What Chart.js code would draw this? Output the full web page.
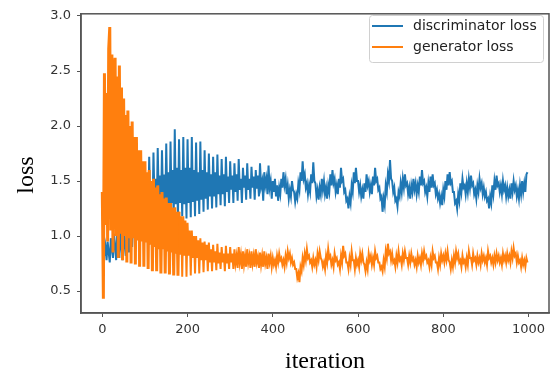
<!DOCTYPE html>
<html>
<head>
<meta charset="utf-8">
<script src="https://cdn.jsdelivr.net/npm/chart.js@4.4.1/dist/chart.umd.min.js"></script>
<style>
  html, body { margin: 0; padding: 0; background: #fff; }
  #wrap { width: 558px; height: 375px; }
</style>
</head>
<body>
<div id="wrap"><canvas id="lossChart" width="558" height="375"></canvas></div>
<script>
// one value every STEP iterations, 20 values (50 iterations) per row
const STEP = 2.5;

const discLoss = [
    1.30, 0.95, 0.82, 0.90, 0.78, 0.95, 0.85, 0.76, 0.98, 0.88, 0.80, 1.02, 0.90, 0.78, 1.04, 0.92, 0.80, 1.05, 0.90, 0.78,
    1.05, 0.92, 0.82, 1.06, 0.95, 0.85, 1.10, 1.00, 0.90, 1.18, 1.05, 0.95, 1.25, 1.10, 1.00, 1.32, 1.15, 1.05, 1.42, 1.20,
    1.58, 1.28, 1.45, 1.12, 1.72, 1.30, 1.50, 1.15, 1.76, 1.32, 1.52, 1.16, 1.80, 1.30, 1.55, 1.18, 1.78, 1.30, 1.56, 1.17,
    1.84, 1.30, 1.58, 1.18, 1.86, 1.30, 1.60, 1.17, 1.97, 1.29, 1.62, 1.16, 1.88, 1.30, 1.60, 1.18, 1.90, 1.29, 1.62, 1.16,
    1.88, 1.30, 1.62, 1.17, 1.90, 1.31, 1.60, 1.18, 1.85, 1.32, 1.58, 1.20, 1.86, 1.33, 1.60, 1.22, 1.78, 1.34, 1.58, 1.24,
    1.75, 1.36, 1.56, 1.25, 1.72, 1.36, 1.58, 1.26, 1.74, 1.38, 1.55, 1.28, 1.70, 1.38, 1.56, 1.27, 1.72, 1.40, 1.54, 1.30,
    1.68, 1.42, 1.55, 1.30, 1.66, 1.40, 1.56, 1.32, 1.70, 1.42, 1.52, 1.30, 1.62, 1.44, 1.55, 1.33, 1.66, 1.42, 1.52, 1.34,
    1.63, 1.44, 1.54, 1.33, 1.60, 1.43, 1.55, 1.36, 1.66, 1.45, 1.50, 1.32, 1.58, 1.46, 1.52, 1.38, 1.64, 1.44, 1.50, 1.34,
    1.50, 1.40, 1.52, 1.36, 1.46, 1.32, 1.44, 1.38, 1.52, 1.44, 1.58, 1.46, 1.52, 1.38, 1.46, 1.34, 1.42, 1.36, 1.50, 1.42,
    1.40, 1.31, 1.38, 1.34, 1.48, 1.42, 1.58, 1.50, 1.68, 1.52, 1.56, 1.44, 1.48, 1.38, 1.46, 1.40, 1.56, 1.48, 1.67, 1.50,
    1.48, 1.36, 1.42, 1.33, 1.44, 1.38, 1.52, 1.42, 1.50, 1.38, 1.44, 1.34, 1.46, 1.40, 1.56, 1.46, 1.60, 1.48, 1.52, 1.40,
    1.46, 1.38, 1.52, 1.44, 1.62, 1.50, 1.52, 1.40, 1.42, 1.32, 1.34, 1.25, 1.36, 1.30, 1.46, 1.40, 1.58, 1.48, 1.62, 1.50,
    1.50, 1.40, 1.46, 1.36, 1.42, 1.34, 1.48, 1.40, 1.56, 1.46, 1.50, 1.40, 1.46, 1.38, 1.54, 1.46, 1.62, 1.50, 1.52, 1.42,
    1.44, 1.34, 1.36, 1.22, 1.34, 1.28, 1.46, 1.40, 1.56, 1.50, 1.69, 1.52, 1.50, 1.40, 1.44, 1.32, 1.34, 1.27, 1.40, 1.36,
    1.48, 1.40, 1.52, 1.44, 1.56, 1.46, 1.48, 1.38, 1.44, 1.34, 1.46, 1.40, 1.52, 1.42, 1.48, 1.38, 1.46, 1.40, 1.54, 1.46,
    1.60, 1.48, 1.50, 1.40, 1.44, 1.36, 1.48, 1.40, 1.54, 1.44, 1.56, 1.46, 1.48, 1.38, 1.42, 1.34, 1.38, 1.30, 1.36, 1.28,
    1.42, 1.36, 1.50, 1.42, 1.56, 1.46, 1.58, 1.48, 1.50, 1.40, 1.40, 1.30, 1.32, 1.25, 1.38, 1.32, 1.48, 1.40, 1.52, 1.44,
    1.46, 1.38, 1.48, 1.40, 1.52, 1.44, 1.55, 1.46, 1.48, 1.38, 1.42, 1.34, 1.46, 1.40, 1.52, 1.44, 1.48, 1.38, 1.44, 1.36,
    1.40, 1.32, 1.34, 1.25, 1.36, 1.30, 1.46, 1.38, 1.50, 1.42, 1.55, 1.46, 1.48, 1.40, 1.46, 1.38, 1.50, 1.42, 1.46, 1.36,
    1.44, 1.36, 1.42, 1.34, 1.48, 1.40, 1.50, 1.42, 1.46, 1.36, 1.42, 1.34, 1.46, 1.38, 1.50, 1.40, 1.48, 1.40, 1.56, 1.58
];

const genLoss = [
    1.40, 0.43, 2.48, 1.10, 2.30, 0.95, 2.70, 2.90, 1.05, 2.65, 0.85, 2.50, 2.62, 1.00, 2.45, 0.80, 2.55, 1.02, 2.35, 0.78,
    2.25, 1.00, 2.10, 0.76, 2.14, 0.98, 2.00, 0.75, 2.04, 0.98, 1.90, 0.74, 1.90, 0.96, 1.78, 0.72, 1.78, 0.95, 1.68, 0.72,
    1.68, 0.94, 1.58, 0.70, 1.60, 0.92, 1.50, 0.68, 1.52, 0.90, 1.44, 0.68, 1.46, 0.88, 1.38, 0.66, 1.40, 0.88, 1.34, 0.66,
    1.35, 0.86, 1.30, 0.65, 1.30, 0.85, 1.26, 0.64, 1.26, 0.84, 1.22, 0.64, 1.22, 0.83, 1.18, 0.63, 1.18, 0.82, 1.14, 0.63,
    1.12, 0.82, 1.05, 0.64, 1.05, 0.80, 1.00, 0.66, 1.00, 0.80, 0.96, 0.66, 0.98, 0.78, 0.94, 0.67, 0.95, 0.78, 0.92, 0.68,
    0.94, 0.76, 0.88, 0.68, 0.92, 0.76, 0.86, 0.69, 0.93, 0.75, 0.85, 0.70, 0.90, 0.76, 0.84, 0.68, 0.91, 0.75, 0.84, 0.70,
    0.90, 0.76, 0.84, 0.70, 0.88, 0.75, 0.82, 0.71, 0.90, 0.76, 0.83, 0.70, 0.86, 0.74, 0.82, 0.72, 0.88, 0.76, 0.82, 0.71,
    0.86, 0.75, 0.82, 0.72, 0.88, 0.76, 0.81, 0.71, 0.85, 0.74, 0.82, 0.72, 0.86, 0.75, 0.80, 0.70, 0.84, 0.76, 0.82, 0.72,
    0.80, 0.74, 0.78, 0.72, 0.82, 0.76, 0.84, 0.78, 0.80, 0.74, 0.78, 0.72, 0.82, 0.76, 0.86, 0.80, 0.84, 0.76, 0.80, 0.74,
    0.76, 0.70, 0.70, 0.62, 0.66, 0.58, 0.72, 0.68, 0.80, 0.74, 0.84, 0.78, 0.88, 0.80, 0.82, 0.76, 0.78, 0.72, 0.80, 0.74,
    0.78, 0.72, 0.84, 0.78, 0.86, 0.80, 0.78, 0.72, 0.76, 0.70, 0.82, 0.76, 0.88, 0.80, 0.82, 0.74, 0.78, 0.72, 0.84, 0.78,
    0.80, 0.74, 0.76, 0.70, 0.82, 0.76, 0.91, 0.82, 0.84, 0.76, 0.76, 0.70, 0.80, 0.74, 0.86, 0.78, 0.78, 0.70, 0.80, 0.74,
    0.78, 0.72, 0.84, 0.78, 0.84, 0.76, 0.74, 0.68, 0.76, 0.70, 0.84, 0.78, 0.82, 0.74, 0.80, 0.74, 0.86, 0.80, 0.82, 0.76,
    0.76, 0.70, 0.72, 0.68, 0.78, 0.72, 0.86, 0.80, 0.93, 0.84, 0.86, 0.78, 0.84, 0.76, 0.78, 0.72, 0.82, 0.76, 0.86, 0.78,
    0.80, 0.74, 0.84, 0.78, 0.86, 0.80, 0.80, 0.74, 0.82, 0.76, 0.84, 0.78, 0.80, 0.74, 0.78, 0.72, 0.82, 0.76, 0.80, 0.74,
    0.84, 0.78, 0.86, 0.80, 0.82, 0.76, 0.78, 0.72, 0.80, 0.74, 0.86, 0.80, 0.82, 0.76, 0.76, 0.70, 0.80, 0.74, 0.84, 0.78,
    0.82, 0.76, 0.84, 0.78, 0.86, 0.78, 0.76, 0.70, 0.78, 0.72, 0.82, 0.76, 0.86, 0.80, 0.84, 0.76, 0.78, 0.72, 0.82, 0.76,
    0.78, 0.72, 0.80, 0.74, 0.86, 0.80, 0.80, 0.74, 0.84, 0.78, 0.80, 0.74, 0.82, 0.76, 0.80, 0.74, 0.84, 0.78, 0.82, 0.76,
    0.80, 0.74, 0.86, 0.80, 0.82, 0.76, 0.80, 0.74, 0.82, 0.76, 0.84, 0.78, 0.82, 0.76, 0.80, 0.74, 0.84, 0.78, 0.82, 0.76,
    0.84, 0.78, 0.82, 0.76, 0.86, 0.80, 0.89, 0.82, 0.84, 0.76, 0.82, 0.76, 0.78, 0.72, 0.80, 0.74, 0.78, 0.72, 0.80, 0.76
];

const xTicks = [0, 200, 400, 600, 800, 1000];
const yTicks = [0.5, 1.0, 1.5, 2.0, 2.5, 3.0];
const seriesLabels = ['discriminator loss', 'generator loss'];
const seriesColors = ['#1f77b4', '#ff7f0e'];

function toPoints(values) {
    return values.map((v, i) => ({ x: i * STEP, y: v }));
}

// frame, axis titles and the boxed legend
const extras = {
    id: 'extras',
    afterDraw(chart) {
        const c = chart.ctx;
        const a = chart.chartArea;
        c.save();

        c.strokeStyle = '#555';
        c.lineWidth = 1.5;
        c.strokeRect(a.left, a.top, a.right - a.left, a.bottom - a.top);

        c.fillStyle = '#000';
        c.font = '24px "Liberation Serif", "DejaVu Serif", serif';
        c.textAlign = 'center';
        c.textBaseline = 'alphabetic';
        c.fillText('iteration', 325, 368);
        c.translate(33, 175);
        c.rotate(-Math.PI / 2);
        c.fillText('loss', 0, 0);
        c.setTransform(1, 0, 0, 1, 0, 0);

        // legend
        c.fillStyle = 'rgba(255,255,255,0.85)';
        c.strokeStyle = '#d0d0d0';
        c.lineWidth = 1;
        c.beginPath();
        c.roundRect(369.5, 15.5, 174, 47, 3);
        c.fill();
        c.stroke();

        c.font = '14px "DejaVu Sans", sans-serif';
        c.textAlign = 'left';
        c.textBaseline = 'middle';
        seriesLabels.forEach((label, i) => {
            const y = 26 + i * 21;
            c.strokeStyle = seriesColors[i];
            c.lineWidth = 2;
            c.beginPath();
            c.moveTo(372, y);
            c.lineTo(403, y);
            c.stroke();
            c.fillStyle = '#222';
            c.fillText(label, 413, y);
        });
        c.restore();
    }
};

const ctx = document.getElementById('lossChart').getContext('2d');

const lossChart = new Chart(ctx, {
    type: 'line',
    data: {
        datasets: [
            {
                label: seriesLabels[0],
                data: toPoints(discLoss),
                borderColor: seriesColors[0],
                borderWidth: 2,
                pointRadius: 0,
                order: 1
            },
            {
                label: seriesLabels[1],
                data: toPoints(genLoss),
                borderColor: seriesColors[1],
                borderWidth: 2,
                pointRadius: 0,
                order: 0,
                // early part is a dense oscillation, draw it a bit heavier
                segment: { borderWidth: s => (s.p0.parsed.x < 180 ? 3 : 2) }
            }
        ]
    },
    options: {
        responsive: false,
        animation: false,
        layout: { padding: { left: 0, top: 8, right: 9, bottom: 0 } },
        plugins: {
            legend: { display: false },
            tooltip: { enabled: false }
        },
        scales: {
            x: {
                type: 'linear',
                min: -50,
                max: 1048,
                afterBuildTicks: s => { s.ticks = xTicks.map(v => ({ value: v })); },
                afterFit: s => { s.height = 62; },
                grid: { drawOnChartArea: false, drawTicks: true, tickLength: 4, color: '#555' },
                border: { display: true, color: '#555', width: 1.5 },
                ticks: {
                    color: '#333',
                    padding: 5,
                    maxRotation: 0,
                    font: { family: 'DejaVu Sans', size: 13 },
                    callback: v => String(v)
                }
            },
            y: {
                min: 0.3,
                max: 3.02,
                afterBuildTicks: s => { s.ticks = yTicks.map(v => ({ value: v })); },
                afterFit: s => { s.width = 81; },
                grid: { drawOnChartArea: false, drawTicks: true, tickLength: 4, color: '#555' },
                border: { display: true, color: '#555', width: 1.5 },
                ticks: {
                    color: '#333',
                    padding: 6,
                    font: { family: 'DejaVu Sans', size: 13 },
                    callback: v => v.toFixed(1)
                }
            }
        }
    },
    plugins: [extras]
});
</script>
</body>
</html>
